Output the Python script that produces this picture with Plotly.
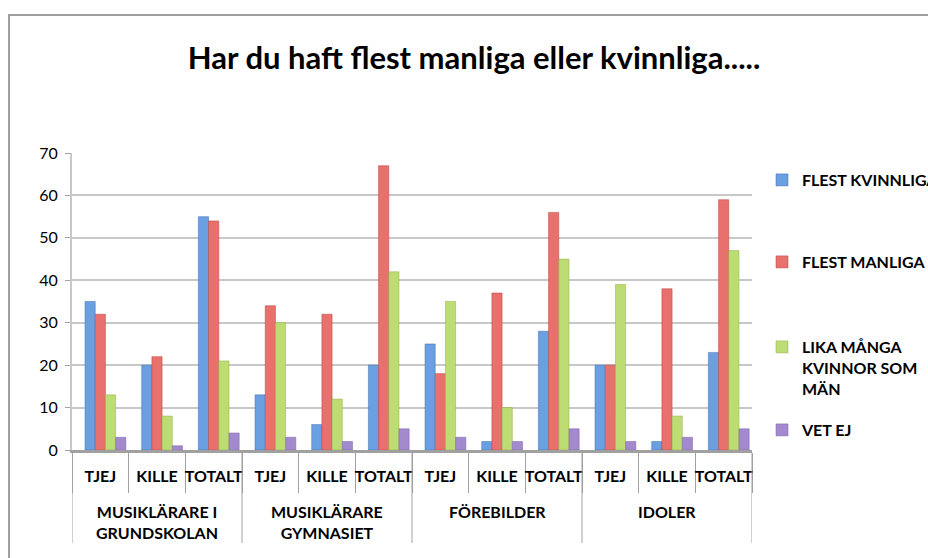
import plotly.graph_objects as go

groups = ["MUSIKLÄRARE I<br>GRUNDSKOLAN", "MUSIKLÄRARE<br>GYMNASIET", "FÖREBILDER", "IDOLER"]
subs = ["TJEJ", "KILLE", "TOTALT"]

series_names = ["FLEST KVINNLIGA", "FLEST MANLIGA", "LIKA MÅNGA<br>KVINNOR SOM<br>MÄN", "VET EJ"]
flest_kvinnliga = [35, 20, 55, 13, 6, 20, 25, 2, 28, 20, 2, 23]
flest_manliga = [32, 22, 54, 34, 32, 67, 18, 37, 56, 20, 38, 59]
lika_manga = [13, 8, 21, 30, 12, 42, 35, 10, 45, 39, 8, 47]
vet_ej = [3, 1, 4, 3, 2, 5, 3, 2, 5, 2, 3, 5]
colors = ["#6A9FE2", "#E8716D", "#BEDC74", "#A38ACE"]
line_colors = ["#3F6FB0", "#B8423E", "#8FAE45", "#7B62A6"]

n_cat = len(groups) * len(subs)
x_pos = list(range(n_cat))
tick_text = [s for _ in groups for s in subs]

FONT = "Lato"
W, H = 928, 558
L, R, T, B = 72, 752, 153, 450  # plot area in pixels
PW, PH = R - L, B - T


def px_x(px):
    return (px - L) / PW


def px_y(py):
    return (B - py) / PH


BAR_W = 0.18
fig = go.Figure()
legends = ["legend", "legend2", "legend3", "legend4"]
for i, (name, vals) in enumerate(zip(series_names, [flest_kvinnliga, flest_manliga, lika_manga, vet_ej])):
    fig.add_trace(go.Bar(
        x=x_pos, y=vals, name=name, showlegend=True,
        width=BAR_W, offset=-0.27 + i * BAR_W,
        marker=dict(color=colors[i], line=dict(color=line_colors[i], width=0.5)),
        legend=legends[i],
    ))

leg_y = [178, 260, 345, 428]
layout_leg = {}
for name, yy in zip(legends, leg_y):
    layout_leg[name] = dict(
        font=dict(family=FONT, size=16, color="black", weight="bold"),
        bgcolor="rgba(0,0,0,0)", xref="container", yref="container",
        xanchor="left", yanchor="top", valign="top", itemwidth=30,
        x=762 / W, y=1 - (yy - 15) / H)

fig.update_layout(
    width=W, height=H, showlegend=True,
    paper_bgcolor="white", plot_bgcolor="white",
    margin=dict(l=L, r=W - R, t=T, b=H - B, autoexpand=False),
    title=dict(text="<b>Har du haft flest manliga eller kvinnliga.....</b>",
               font=dict(family=FONT, size=31, color="black"),
               x=474 / W, xanchor="center", y=1 - 58 / H, yanchor="middle"),
    barmode="overlay",
    font=dict(family=FONT, color="black"),
    **layout_leg,
)
fig.update_yaxes(range=[0, 70], dtick=10, showgrid=True, gridcolor="#C8C8C8", gridwidth=2,
                 showline=True, linecolor="#C8C8C8", linewidth=2, ticks="outside",
                 tickcolor="#A0A0A0", ticklen=5, tickfont=dict(size=16, family=FONT),
                 ticklabelstandoff=4, zeroline=False)
fig.update_xaxes(range=[-0.5, n_cat - 0.5], tickmode="array", tickvals=x_pos, ticktext=tick_text,
                 showline=True, linecolor="#A0A0A0", linewidth=3, ticks="",
                 ticklabelstandoff=10, showgrid=False, zeroline=False,
                 tickfont=dict(size=16, family=FONT, weight="bold"),
                 minor=dict(tickmode="array", tickvals=[v - 0.5 for v in x_pos] + [n_cat - 0.5],
                            ticks="outside", ticklen=40, tickcolor="#A0A0A0", tickwidth=1, showgrid=False))

# group dividers and labels
for gi, g in enumerate(groups):
    start = gi * len(subs) - 0.5
    fig.add_shape(type="line", xref="x", yref="paper", x0=start, x1=start,
                  y0=0, y1=px_y(543), line=dict(color="#A0A0A0", width=1))
    fig.add_annotation(text="<b>%s</b>" % g, xref="x", yref="paper",
                       x=start + len(subs) / 2, y=px_y(500), yanchor="top", showarrow=False,
                       font=dict(family=FONT, size=16, color="black"))
fig.add_shape(type="line", xref="x", yref="paper", x0=n_cat - 0.5, x1=n_cat - 0.5,
              y0=0, y1=px_y(543), line=dict(color="#A0A0A0", width=1))

# chart frame (left and top edges visible)
fig.add_shape(type="rect", xref="paper", yref="paper",
              x0=px_x(9), x1=px_x(W + 20), y0=px_y(H + 20), y1=px_y(15),
              line=dict(color="#A0A0A0", width=2), layer="below")

fig.write_html("out.html", config={"displayModeBar": False},
               post_script="document.body.style.margin='0px';")
